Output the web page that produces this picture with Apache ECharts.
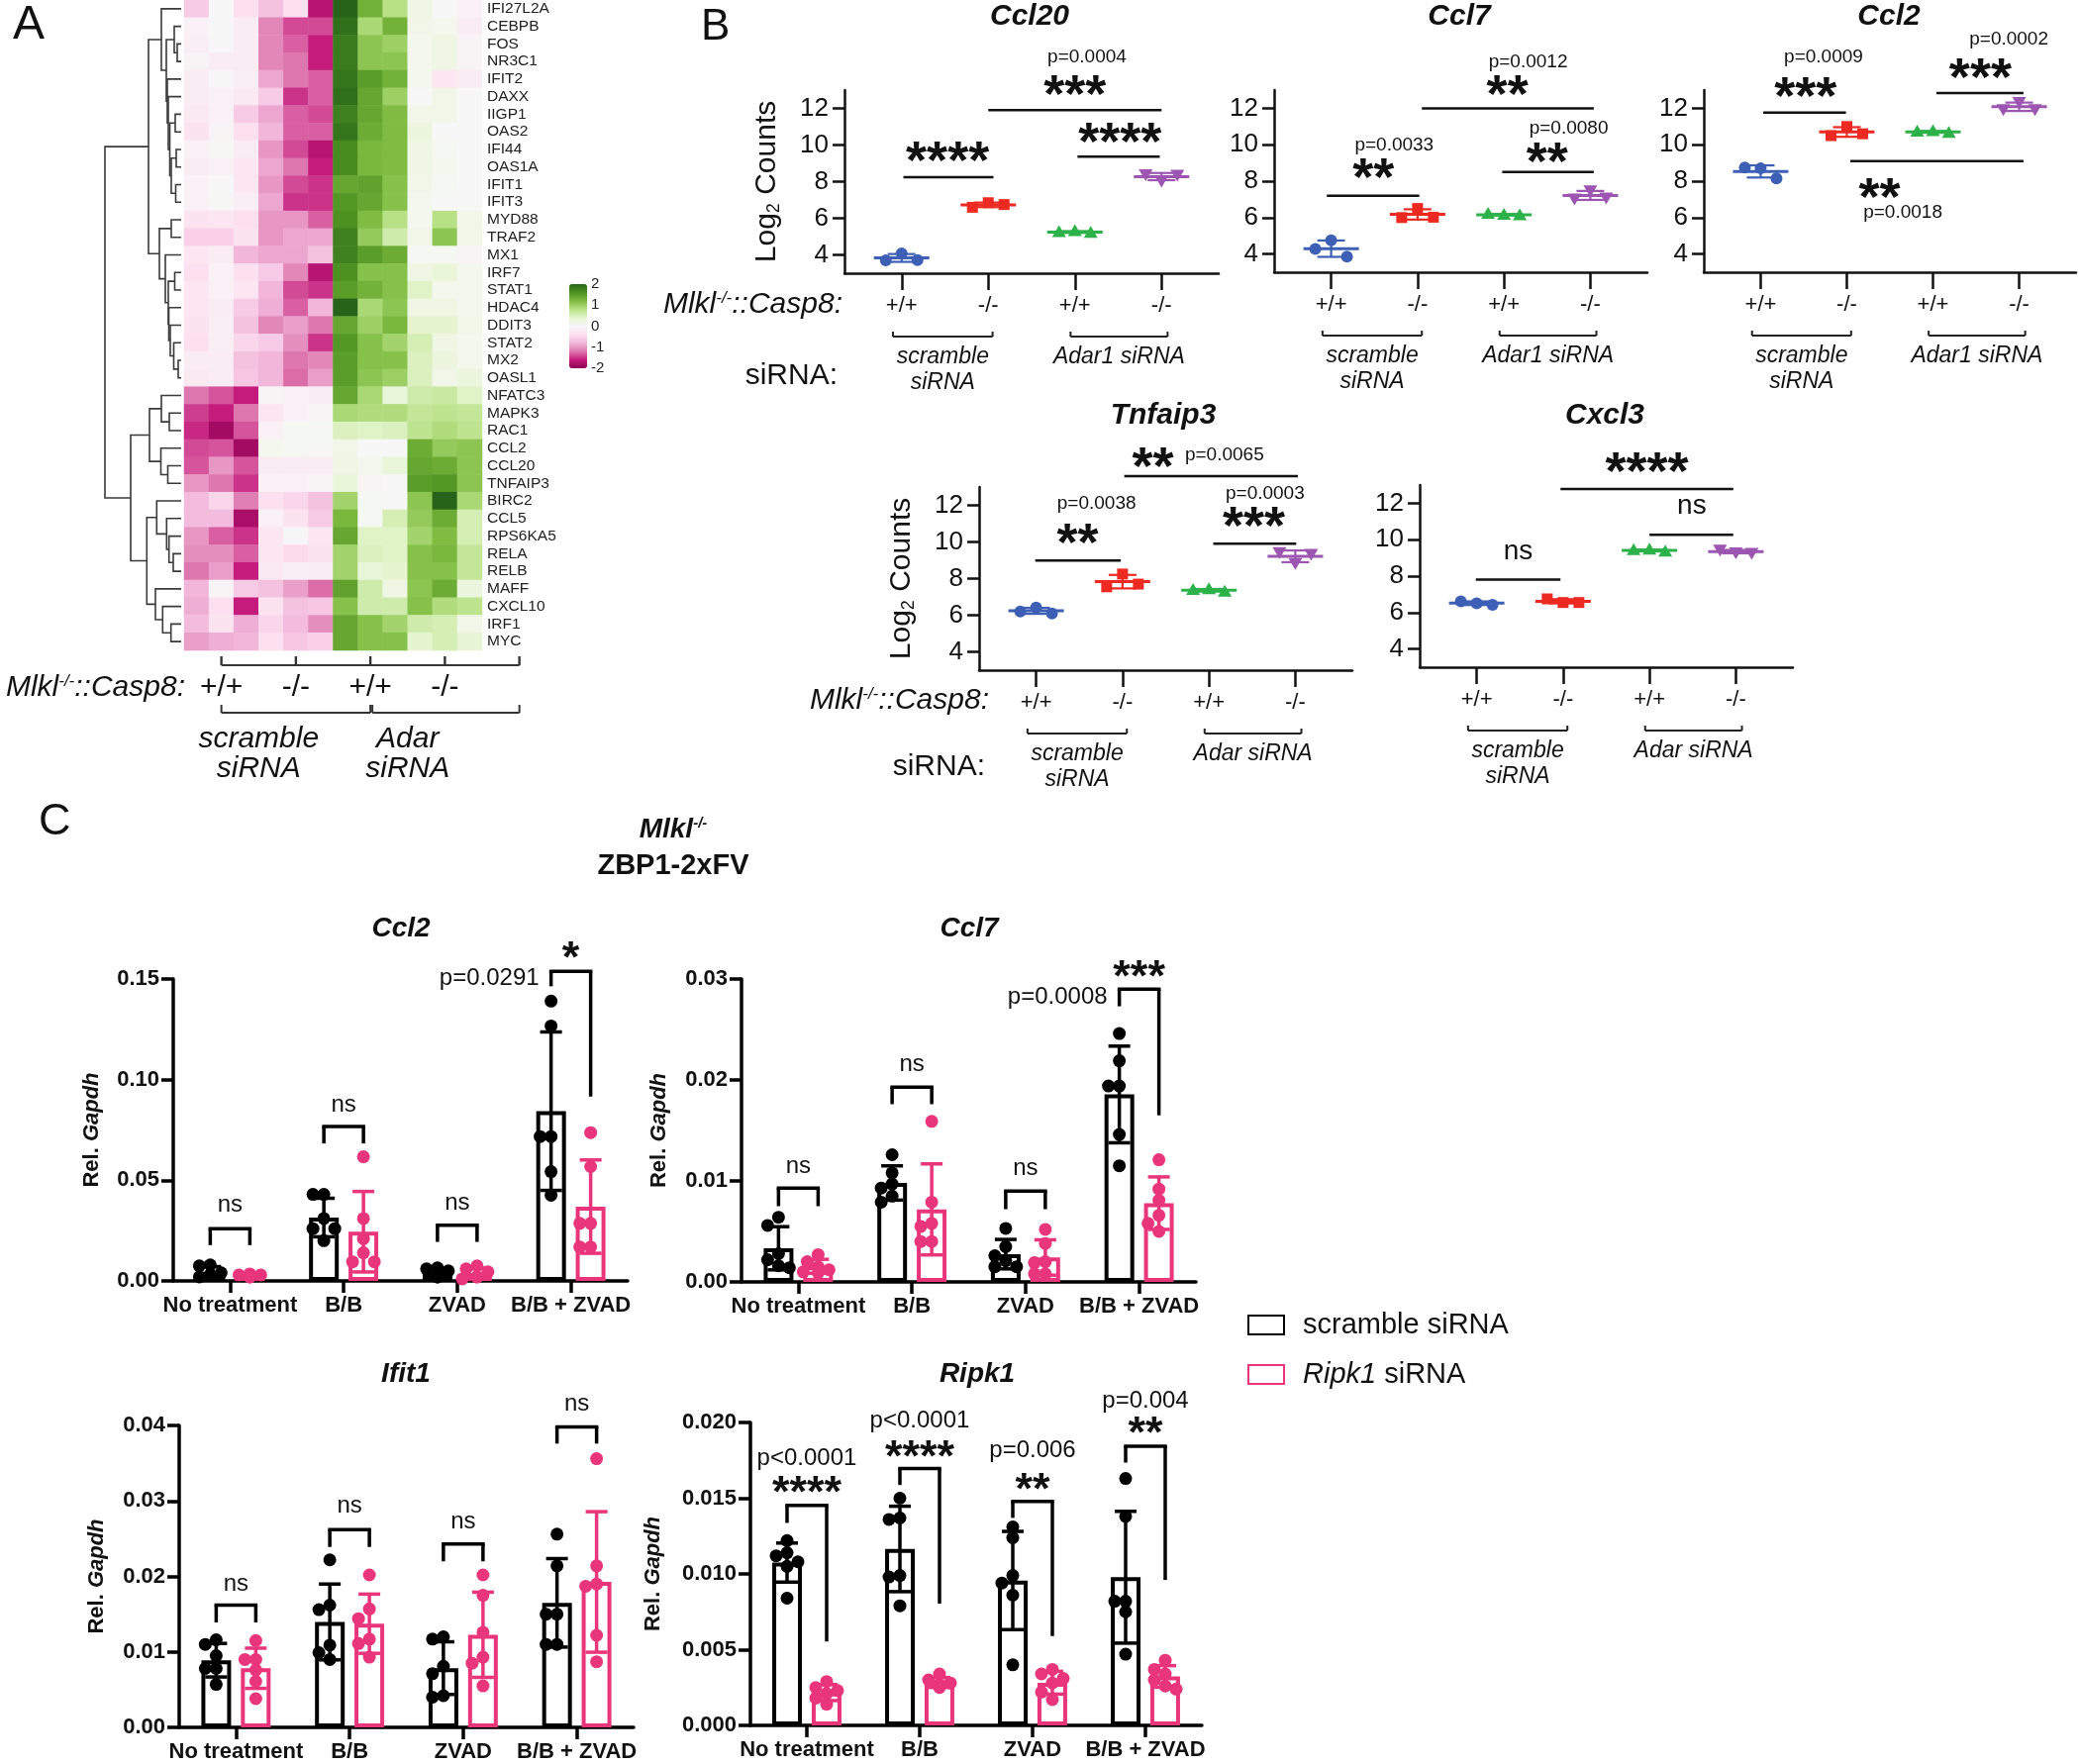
<!DOCTYPE html>
<html><head><meta charset="utf-8">
<script src="https://cdn.jsdelivr.net/npm/echarts@6/dist/echarts.min.js"></script>
<style>html,body{margin:0;padding:0;background:#fff}#c{width:2100px;height:1782px}</style>
</head><body><div id="c"></div>
<script>
const FONT = '"Liberation Sans", Arial, Helvetica, sans-serif';

// ================= PANEL A DATA =================
const genes = ['IFI27L2A','CEBPB','FOS','NR3C1','IFIT2','DAXX','IIGP1','OAS2','IFI44','OAS1A','IFIT1','IFIT3','MYD88','TRAF2','MX1','IRF7','STAT1','HDAC4','DDIT3','STAT2','MX2','OASL1','NFATC3','MAPK3','RAC1','CCL2','CCL20','TNFAIP3','BIRC2','CCL5','RPS6KA5','RELA','RELB','MAFF','CXCL10','IRF1','MYC'];
const samples = ['scr+/+ 1','scr+/+ 2','scr+/+ 3','scr-/- 1','scr-/- 2','scr-/- 3','adar+/+ 1','adar+/+ 2','adar+/+ 3','adar-/- 1','adar-/- 2','adar-/- 3'];
const zScores = [
 [-0.6,0,-0.4,-0.7,-0.4,-1.7,2.0,1.3,0.8,0.2,0.0,-0.1],
 [-0.1,0,-0.2,-1.1,-1.4,-1.4,1.9,0.9,1.3,0.15,0.1,-0.2],
 [-0.15,0.0,-0.2,-1.1,-1.3,-1.6,1.8,1.1,1.0,0.1,0.2,-0.05],
 [-0.05,-0.2,-0.2,-1.1,-1.2,-1.6,1.8,1.1,1.1,0.1,0.2,-0.05],
 [-0.2,0.0,-0.15,-0.9,-1.2,-1.3,1.85,1.5,1.3,0.1,-0.3,-0.2],
 [-0.2,-0.1,-0.25,-0.6,-1.5,-1.3,1.9,1.4,1.0,0.0,0.15,0.0],
 [-0.25,-0.1,-0.6,-0.9,-1.3,-1.4,1.75,1.4,1.2,0.15,0.15,0.0],
 [-0.35,-0.05,-0.4,-0.8,-1.3,-1.3,1.85,1.35,1.2,0.25,0.0,0.0],
 [-0.1,0.02,-0.2,-1.0,-1.4,-1.7,1.65,1.25,1.2,0.2,0.05,0.0],
 [-0.2,-0.1,-0.3,-0.9,-1.2,-1.6,1.65,1.25,1.2,0.2,0.1,0.0],
 [-0.1,0.0,-0.3,-1.0,-1.4,-1.5,1.4,1.45,1.15,0.15,0.05,0.0],
 [-0.1,0.02,-0.15,-0.9,-1.5,-1.5,1.55,1.4,1.15,0.1,0.0,0.0],
 [-0.35,-0.3,-0.4,-1.0,-1.0,-1.3,1.6,1.2,0.8,0.1,0.8,0.15],
 [-0.55,-0.55,-0.35,-1.0,-0.9,-0.9,1.75,1.05,0.6,0.15,1.1,0.15],
 [-0.3,-0.2,-0.8,-0.9,-0.9,-0.7,1.75,1.5,1.35,0.05,0.05,-0.05],
 [-0.4,-0.1,-0.4,-0.6,-1.1,-1.7,1.6,1.15,1.15,0.2,0.3,0.1],
 [-0.3,-0.1,-0.3,-0.8,-1.4,-1.5,1.5,1.3,1.15,0.45,0.1,0.1],
 [-0.3,-0.2,-0.6,-0.85,-1.3,-0.8,2.0,0.9,1.1,0.2,0.2,0.1],
 [-0.35,-0.15,-0.7,-1.1,-0.95,-1.2,1.4,1.0,1.25,0.4,0.4,0.15],
 [-0.4,-0.15,-0.5,-0.6,-1.05,-1.5,1.55,1.15,0.95,0.55,0.2,0.1],
 [-0.2,-0.2,-0.7,-0.8,-1.2,-1.1,1.5,1.15,1.15,0.5,0.25,0.1],
 [-0.25,-0.2,-0.65,-0.8,-1.25,-0.95,1.5,1.1,1.0,0.5,0.15,0.25],
 [-1.2,-1.35,-1.6,-0.05,-0.1,-0.2,1.4,0.9,0.3,0.6,0.65,0.45],
 [-1.45,-1.6,-1.2,-0.3,-0.1,-0.05,0.9,0.85,0.85,0.7,0.75,0.7],
 [-1.55,-1.85,-1.35,-0.1,0.05,0.05,0.5,0.45,0.5,0.75,0.85,0.75],
 [-1.4,-1.35,-1.85,0.1,0.05,0.02,0.15,0.0,0.0,1.35,1.05,1.1],
 [-1.35,-1.0,-1.35,-0.2,-0.2,-0.2,0.2,0.1,0.3,1.4,1.35,1.1],
 [-1.0,-1.2,-1.5,-0.1,-0.1,-0.05,0.3,-0.05,0.0,1.5,1.55,1.1],
 [-0.75,-0.5,-1.15,-0.4,-0.5,-0.7,0.95,0.05,0.0,1.1,2.0,0.9],
 [-0.75,-0.75,-1.8,-0.1,-0.35,-0.6,1.25,0.05,0.55,1.05,1.35,0.55],
 [-1.0,-1.3,-1.5,-0.3,-0.02,-0.3,1.4,0.45,0.45,0.95,1.2,0.55],
 [-1.05,-1.05,-1.3,-0.3,-0.45,-0.35,0.95,0.5,0.45,1.15,1.25,0.7],
 [-1.2,-0.95,-1.6,-0.25,-0.15,-0.2,0.95,0.3,0.4,1.15,1.15,0.7],
 [-0.8,-0.05,-0.6,-0.7,-0.95,-1.25,1.45,0.6,0.2,1.1,1.35,0.25],
 [-0.85,-0.4,-1.6,-0.35,-0.7,-0.65,1.15,0.6,0.6,1.15,0.85,0.75],
 [-0.75,-0.35,-0.85,-0.5,-0.75,-1.05,1.4,1.15,0.95,0.6,0.55,0.15],
 [-0.95,-0.85,-0.8,-0.4,-0.65,-0.55,1.4,1.15,1.15,0.4,0.55,0.35]
];
// hierarchical clustering: [mergeHeight, left, right]
const geneTree = [77,
 [33,
  [20,'IFI27L2A',[15,[7,'CEBPB',[4,'FOS','NR3C1']],[14,'IFIT2',[13,'DAXX',[11.5,[6,'IIGP1','OAS2'],[10,[5,'IFI44','OAS1A'],[5.5,'IFIT1','IFIT3']]]]]]],
  [22,[10,'MYD88','TRAF2'],[16,'MX1',[13,[6.5,'IRF7','STAT1'],[12.5,'HDAC4',[11,'DDIT3',[7.5,'STAT2',[3,'MX2','OASL1']]]]]]]],
 [51,
  [32,[20,'NFATC3',[12,'MAPK3','RAC1']],[20.5,'CCL2',[13.5,'CCL20','TNFAIP3']]],
  [34.7,[24.7,'BIRC2',[14.7,'CCL5',[12.3,'RPS6KA5',[8,'RELA','RELB']]]],[26,'MAFF',[18.7,'CXCL10',[10.3,'IRF1','MYC']]]]]
];
const genotypeLabels = ['+/+','-/-','+/+','-/-'];
const siRNAGroupsA = [['scramble','siRNA'],['Adar','siRNA']];

// ================= PANEL B DATA (Log2 counts, 3 replicates) =================
const ccl20Counts   = [[3.7,4.08,3.72],[6.6,6.85,6.75],[5.25,5.3,5.2],[8.4,8.05,8.38]];
const ccl7Counts    = [[4.28,4.75,3.85],[6.0,6.5,6.02],[6.2,6.15,6.12],[7.05,7.5,7.1]];
const ccl2Counts    = [[8.75,8.7,8.15],[10.5,11.0,10.6],[10.72,10.75,10.65],[11.95,12.35,11.95]];
const tnfaip3Counts = [[6.2,6.42,6.1],[7.55,8.25,7.7],[7.38,7.42,7.28],[9.45,8.85,9.35]];
const cxcl3Counts   = [[6.62,6.5,6.42],[6.75,6.55,6.55],[9.42,9.45,9.35],[9.45,9.3,9.28]];
const ccl20Sig = [
 {x1:0.02,x2:1.06,y:8.24,t:'****',tx:0.53,ty:9.62},
 {x1:2.03,x2:2.98,y:9.37,t:'****',tx:2.52,ty:10.69},
 {x1:1.0,x2:3.0,y:11.9,t:'***',tx:2.0,ty:13.27,p:'p=0.0004',px:2.14,py:14.78}];
const ccl7Sig = [
 {x1:-0.05,x2:1.02,y:7.2,t:'**',tx:0.49,ty:8.7,p:'p=0.0033',px:0.73,py:9.99},
 {x1:1.98,x2:3.04,y:8.5,t:'**',tx:2.5,ty:9.56,p:'p=0.0080',px:2.75,py:10.9},
 {x1:1.05,x2:3.04,y:12.0,t:'**',tx:2.04,ty:13.27,p:'p=0.0012',px:2.28,py:14.56}];
const ccl2Sig = [
 {x1:0.03,x2:0.99,y:11.76,t:'***',tx:0.52,ty:13.17,p:'p=0.0009',px:0.73,py:14.78},
 {x1:2.04,x2:3.05,y:12.84,t:'***',tx:2.55,ty:14.19,p:'p=0.0002',px:2.88,py:15.8},
 {x1:1.04,x2:3.05,y:9.1,t:'**',tx:1.38,ty:7.58,p:'p=0.0018',px:1.65,py:6.28}];
const tnfaip3Sig = [
 {x1:-0.01,x2:0.98,y:8.98,t:'**',tx:0.48,ty:10.44,p:'p=0.0038',px:0.7,py:12.1},
 {x1:2.05,x2:3.01,y:9.91,t:'***',tx:2.52,ty:11.35,p:'p=0.0003',px:2.65,py:12.64},
 {x1:1.02,x2:3.03,y:13.59,t:'**',tx:1.35,ty:14.63,p:'p=0.0065',px:2.18,py:14.74}];
const cxcl3Sig = [
 {x1:-0.01,x2:0.97,y:7.81,t:'ns',tx:0.48,ty:9.32},
 {x1:2.0,x2:2.97,y:10.27,t:'ns',tx:2.49,ty:11.83},
 {x1:0.97,x2:2.97,y:12.78,t:'****',tx:1.97,ty:14.24}];
const siRNAGroupsB1 = [{x1:-0.1,x2:1.05,lines:['scramble','siRNA']},{x1:1.95,x2:3.07,lines:['Adar1 siRNA']}];
const siRNAGroupsB2 = [{x1:-0.1,x2:1.05,lines:['scramble','siRNA']},{x1:1.95,x2:3.07,lines:['Adar siRNA']}];
const countTicks = [4,6,8,10,12];

// ================= PANEL C DATA (Rel. Gapdh, 6 replicates) =================
const treatments = ['No treatment','B/B','ZVAD','B/B + ZVAD'];
const ccl2Scramble = [[0.0075,0.008,0.004,0.003,0.002,0.003],[0.043,0.043,0.031,0.026,0.026,0.02],[0.0065,0.006,0.005,0.003,0.002,0.002],[0.139,0.1267,0.0717,0.0717,0.0543,0.0426]];
const ccl2Ripk1    = [[0.0035,0.003,0.003,0.0025,0.002,0.002],[0.0617,0.031,0.021,0.014,0.0095,0.0095],[0.0075,0.006,0.0045,0.002,0.002,0.001],[0.0737,0.0568,0.0286,0.0286,0.0169,0.0169]];
const ccl7Scramble = [[0.0064,0.0056,0.0028,0.0022,0.0016,0.0014],[0.0126,0.0108,0.0097,0.0093,0.0085,0.0079],[0.0053,0.0035,0.0026,0.0021,0.0015,0.0015],[0.0246,0.0219,0.0194,0.0194,0.0146,0.0115]];
const ccl7Ripk1    = [[0.0027,0.002,0.0015,0.0012,0.001,0.0009],[0.0159,0.0079,0.0058,0.0055,0.004,0.004],[0.0052,0.0038,0.002,0.0019,0.0008,0.0008],[0.0121,0.0092,0.0081,0.0066,0.0058,0.005]];
const ifit1Scramble = [[0.0116,0.011,0.0095,0.0078,0.0078,0.0057],[0.0222,0.0162,0.0156,0.0109,0.0099,0.009],[0.012,0.0117,0.0081,0.0071,0.0042,0.004],[0.0256,0.0214,0.015,0.015,0.011,0.011]];
const ifit1Ripk1    = [[0.0115,0.009,0.009,0.0076,0.0061,0.0038],[0.0202,0.0157,0.0144,0.0117,0.0111,0.0093],[0.0202,0.0175,0.0126,0.0093,0.0085,0.0055],[0.0356,0.0214,0.0187,0.019,0.0122,0.0087]];
const ripk1Scramble = [[0.0122,0.0114,0.0112,0.0108,0.0105,0.0084],[0.015,0.0137,0.0136,0.0099,0.0098,0.0079],[0.0131,0.0124,0.0099,0.0094,0.0086,0.004],[0.0163,0.0138,0.0082,0.0082,0.0075,0.0047]];
const ripk1Ripk1    = [[0.0029,0.0025,0.0023,0.0021,0.0018,0.0014],[0.0034,0.003,0.0028,0.0027,0.0026,0.0025],[0.0037,0.0034,0.0031,0.0028,0.0022,0.0017],[0.0043,0.0037,0.0034,0.003,0.0026,0.0024]];
const ccl2CSig = [
 {cat:0,y:0.026,yl:0.0178,yr:0.0178,t:'ns',ty:0.0377},
 {cat:1,y:0.0767,yl:0.0683,yr:0.0683,t:'ns',ty:0.0875},
 {cat:2,y:0.0277,yl:0.0194,yr:0.0194,t:'ns',ty:0.0389},
 {cat:3,y:0.1538,yl:0.1464,yr:0.0916,t:'*',ty:0.1646,p:'p=0.0291',py:0.1505,side:'left'}];
const ccl7CSig = [
 {cat:0,y:0.0093,yl:0.0075,yr:0.0075,t:'ns',ty:0.0114},
 {cat:1,y:0.0193,yl:0.0176,yr:0.0176,t:'ns',ty:0.0215},
 {cat:2,y:0.009,yl:0.0072,yr:0.0072,t:'ns',ty:0.0112},
 {cat:3,y:0.029,yl:0.0273,yr:0.0165,t:'***',ty:0.031,p:'p=0.0008',py:0.0282,side:'left'}];
const ifit1CSig = [
 {cat:0,y:0.0162,yl:0.0139,yr:0.0139,t:'ns',ty:0.019},
 {cat:1,y:0.0262,yl:0.0239,yr:0.0239,t:'ns',ty:0.0293},
 {cat:2,y:0.0243,yl:0.022,yr:0.022,t:'ns',ty:0.0272},
 {cat:3,y:0.0398,yl:0.0376,yr:0.0376,t:'ns',ty:0.0428}];
const ripk1CSig = [
 {cat:0,y:0.01452,yl:0.01337,yr:0.00554,t:'****',ty:0.0159,p:'p<0.0001',py:0.0176},
 {cat:1,y:0.01696,yl:0.01587,yr:0.00804,t:'****',ty:0.01826,p:'p<0.0001',py:0.0201},
 {cat:2,y:0.01478,yl:0.0137,yr:0.0059,t:'**',ty:0.0161,p:'p=0.006',py:0.01815},
 {cat:3,y:0.01843,yl:0.01735,yr:0.0096,t:'**',ty:0.0198,p:'p=0.004',py:0.0214}];

// ================= helpers =================
const mean = a => a.reduce((s, v) => s + v, 0) / a.length;
const sd = a => { const m = mean(a); return Math.sqrt(a.reduce((s, v) => s + (v - m) * (v - m), 0) / (a.length - 1)); };
const txt = (x, y, text, font, align, vAlign, fill) => ({
  type: 'text', x: x, y: y,
  style: { text: text, font: font, fill: fill || '#111', align: align || 'center', verticalAlign: vAlign || 'middle', textAlign: align || 'center', textVerticalAlign: vAlign || 'middle' }
});
const seg = (x1, y1, x2, y2, w, c) => ({ type: 'line', shape: { x1, y1, x2, y2 }, style: { stroke: c || '#111', lineWidth: w, lineCap: 'butt' } });
const STAR_SHIFT = 0.22;

// dendrogram layout
const dendroSegs = [];
function layoutTree(node) {
  if (typeof node === 'string') return { y: genes.indexOf(node) + 0.5, h: 0 };
  const a = layoutTree(node[1]), b = layoutTree(node[2]);
  dendroSegs.push([node[0], a.y, a.h, b.y, b.h]);
  return { y: (a.y + b.y) / 2, h: node[0] };
}
layoutTree(geneTree);

const heatData = [];
zScores.forEach((row, r) => row.forEach((v, c) => heatData.push([c, r, v])));

// ================= layout =================
const grids = [
  { left: 106, top: 0, width: 77, height: 657 },      // 0 dendrogram
  { left: 186, top: 0, width: 301, height: 657 },     // 1 heatmap
  { left: 575, top: 287, width: 18, height: 85 },     // 2 colorbar
  { left: 853, top: 91, width: 378, height: 185 },    // 3 Ccl20
  { left: 1287, top: 91, width: 377, height: 184 },   // 4 Ccl7
  { left: 1721, top: 91, width: 376, height: 184 },   // 5 Ccl2
  { left: 989, top: 492, width: 377, height: 185 },   // 6 Tnfaip3
  { left: 1434, top: 490, width: 377, height: 184 },  // 7 Cxcl3
  { left: 175, top: 989, width: 459, height: 305 },   // 8 C Ccl2
  { left: 749, top: 989, width: 459, height: 306 },   // 9 C Ccl7
  { left: 181, top: 1440, width: 459, height: 305 },  // 10 C Ifit1
  { left: 758, top: 1437, width: 456, height: 306 }   // 11 C Ripk1
];
const xAxes = [], yAxes = [], series = [];

// --- dendrogram
xAxes.push({ gridIndex: 0, type: 'value', min: 0, max: 77, inverse: true, show: false });
yAxes.push({ gridIndex: 0, type: 'value', min: 0, max: 37, inverse: true, show: false });
series.push({
  type: 'custom', xAxisIndex: 0, yAxisIndex: 0, data: dendroSegs, silent: true,
  renderItem: (params, api) => {
    const h = api.value(0), y1 = api.value(1), h1 = api.value(2), y2 = api.value(3), h2 = api.value(4);
    return { type: 'polyline', shape: { points: [api.coord([h1, y1]), api.coord([h, y1]), api.coord([h, y2]), api.coord([h2, y2])] },
      style: { stroke: '#3a3a3a', lineWidth: 1.6, fill: null } };
  }
});
// --- heatmap
xAxes.push({ gridIndex: 1, type: 'category', data: samples, show: false });
yAxes.push({ gridIndex: 1, type: 'category', data: genes, inverse: true, position: 'right',
  axisLine: { show: false }, axisTick: { show: false },
  axisLabel: { interval: 0, fontSize: 15.5, margin: 5, color: '#222', fontFamily: FONT } });
series.push({ type: 'heatmap', xAxisIndex: 1, yAxisIndex: 1, data: heatData, silent: true, itemStyle: { borderWidth: 0 } });
// panel A bottom annotations
series.push({
  type: 'custom', xAxisIndex: 1, yAxisIndex: 1, data: [[0, 0]], silent: true,
  renderItem: (params, api) => {
    const cs = params.coordSys;
    const x0 = api.coord([0, 0])[0], x1 = api.coord([1, 0])[0];
    const colX = c => x0 + c * (x1 - x0);
    const B = cs.y + cs.height;
    const ch = [];
    const yl = B + 15;
    ch.push(seg(colX(1), yl, colX(13), yl, 2, '#333'));
    [1, 4, 7, 10, 13].forEach(c => ch.push(seg(colX(c), yl, colX(c), yl - 9, 2.4, '#333')));
    genotypeLabels.forEach((g, k) => ch.push(txt(colX(1 + 3 * k), B + 38, g, '30px ' + FONT)));
    const y2 = B + 63;
    [[1, 7], [7.08, 13]].forEach(([a, b]) => {
      ch.push(seg(colX(a), y2, colX(b), y2, 2, '#333'));
      ch.push(seg(colX(a), y2, colX(a), y2 - 8, 2, '#333'));
      ch.push(seg(colX(b), y2, colX(b), y2 - 8, 2, '#333'));
    });
    siRNAGroupsA.forEach((lines, k) => lines.forEach((l, j) =>
      ch.push(txt(colX(2.5 + 6 * k), B + 90 + 30 * j, l, 'italic 30px ' + FONT))));
    return { type: 'group', children: ch };
  }
});
// --- colorbar axis
xAxes.push({ gridIndex: 2, type: 'value', show: false, min: 0, max: 1 });
yAxes.push({ gridIndex: 2, type: 'value', min: -2, max: 2, interval: 1, position: 'right',
  axisLine: { show: false }, splitLine: { show: false },
  axisTick: { show: true, inside: true, length: 5, lineStyle: { color: '#fff', width: 1.5 } },
  axisLabel: { fontSize: 15, margin: 4, color: '#222', fontFamily: FONT } });
series.push({ type: 'scatter', xAxisIndex: 2, yAxisIndex: 2, data: [], silent: true });

// ================= PANEL B =================
const groupColors = ['#3d5fb5', '#ec2a22', '#2db24a', '#9c56b2'];
function marker(kind, x, y, col) {
  if (kind === 0) return { type: 'circle', shape: { cx: x, cy: y, r: 6 }, style: { fill: col } };
  if (kind === 1) return { type: 'rect', shape: { x: x - 5.5, y: y - 5.5, width: 11, height: 11 }, style: { fill: col } };
  if (kind === 2) return { type: 'polygon', shape: { points: [[x, y - 7], [x - 7, y + 5], [x + 7, y + 5]] }, style: { fill: col } };
  return { type: 'polygon', shape: { points: [[x, y + 7], [x - 7, y - 5], [x + 7, y - 5]] }, style: { fill: col } };
}
const bCharts = [
  { title: 'Ccl20', vals: ccl20Counts, sig: ccl20Sig, groups: siRNAGroupsB1, yName: true },
  { title: 'Ccl7', vals: ccl7Counts, sig: ccl7Sig, groups: siRNAGroupsB1, yName: false },
  { title: 'Ccl2', vals: ccl2Counts, sig: ccl2Sig, groups: siRNAGroupsB1, yName: false },
  { title: 'Tnfaip3', vals: tnfaip3Counts, sig: tnfaip3Sig, groups: siRNAGroupsB2, yName: true },
  { title: 'Cxcl3', vals: cxcl3Counts, sig: cxcl3Sig, groups: siRNAGroupsB2, yName: false }
];
bCharts.forEach((bc, i) => {
  const gi = 3 + i;
  const ax = xAxes.length;
  xAxes.push({ gridIndex: gi, type: 'value', min: -0.66, max: 3.66, splitLine: { show: false },
    axisLine: { show: true, onZero: false, lineStyle: { color: '#111', width: 2.5 } },
    axisTick: { show: true, customValues: [0, 1, 2, 3], length: 17, lineStyle: { color: '#111', width: 2.5 } },
    axisLabel: { customValues: [0, 1, 2, 3], formatter: v => genotypeLabels[Math.round(v)], fontSize: 22, margin: 22, color: '#111', fontFamily: FONT } });
  yAxes.push({ gridIndex: gi, type: 'value', min: 3, max: 13, splitLine: { show: false },
    axisLine: { show: true, onZero: false, lineStyle: { color: '#111', width: 2.5 } },
    axisTick: { show: true, customValues: countTicks, length: 12, lineStyle: { color: '#111', width: 2.5 } },
    axisLabel: { customValues: countTicks, fontSize: 26, margin: 16, color: '#111', fontFamily: FONT },
    name: bc.yName ? '{a|Log}{b|2}{a| Counts}' : '', nameLocation: 'middle', nameRotate: 90, nameGap: 62,
    nameTextStyle: { rich: { a: { fontSize: 30, fontFamily: FONT, color: '#111' }, b: { fontSize: 18, fontFamily: FONT, color: '#111', verticalAlign: 'bottom', padding: [14, 0, 0, 0] } } } });
  // dots + mean + sd
  series.push({
    type: 'custom', xAxisIndex: ax, yAxisIndex: ax, silent: true, z: 4,
    data: bc.vals.map((v, k) => [k, mean(v)]),
    renderItem: (params, api) => {
      const k = params.dataIndex, v = bc.vals[k], m = mean(v), s = sd(v), col = groupColors[k];
      const c = api.coord([k, m]);
      const yt = api.coord([k, m + s])[1], yb = api.coord([k, m - s])[1];
      const offs = [-16, 0, 16];
      const ch = v.map((val, j) => marker(k, c[0] + offs[j], api.coord([k, val])[1], col));
      ch.push(seg(c[0] - 28, c[1], c[0] + 28, c[1], 3, col));
      ch.push(seg(c[0], yt, c[0], yb, 2.2, col));
      ch.push(seg(c[0] - 14, yt, c[0] + 14, yt, 2.2, col));
      ch.push(seg(c[0] - 14, yb, c[0] + 14, yb, 2.2, col));
      return { type: 'group', children: ch };
    }
  });
  // significance lines
  series.push({
    type: 'custom', xAxisIndex: ax, yAxisIndex: ax, silent: true, z: 5, clip: false,
    data: bc.sig.map(s => [s.x1, s.y]),
    renderItem: (params, api) => {
      const s = bc.sig[params.dataIndex];
      const a = api.coord([s.x1, s.y]), b = api.coord([s.x2, s.y]);
      const ch = [seg(a[0], a[1], b[0], b[1], 2.5, '#111')];
      const tp = api.coord([s.tx, s.ty]);
      if (s.t === 'ns') ch.push(txt(tp[0], tp[1], 'ns', '28px ' + FONT));
      else ch.push(txt(tp[0], tp[1] + STAR_SHIFT * 54, s.t, 'bold 54px ' + FONT));
      if (s.p) { const pp = api.coord([s.px, s.py]); ch.push(txt(pp[0], pp[1], s.p, '19px ' + FONT)); }
      return { type: 'group', children: ch };
    }
  });
  // siRNA group brackets
  series.push({
    type: 'custom', xAxisIndex: ax, yAxisIndex: ax, silent: true, clip: false,
    data: bc.groups.map(g => [g.x1, 3]),
    renderItem: (params, api) => {
      const g = bc.groups[params.dataIndex], cs = params.coordSys;
      const B = cs.y + cs.height;
      const xa = api.coord([g.x1, 3])[0], xb = api.coord([g.x2, 3])[0];
      const y = B + 64;
      const ch = [seg(xa, y, xb, y, 2, '#222'), seg(xa, y, xa, y - 5, 2, '#222'), seg(xb, y, xb, y - 5, 2, '#222')];
      g.lines.forEach((l, j) => ch.push(txt((xa + xb) / 2, B + 85 + 26 * j, l, 'italic 23px ' + FONT)));
      return { type: 'group', children: ch };
    }
  });
});

// ================= PANEL C =================
const PINK = '#e9357c';
const cCharts = [
  { title: 'Ccl2', scr: ccl2Scramble, rip: ccl2Ripk1, sig: ccl2CSig, max: 0.15, interval: 0.05, dec: 2, gap: 71 },
  { title: 'Ccl7', scr: ccl7Scramble, rip: ccl7Ripk1, sig: ccl7CSig, max: 0.03, interval: 0.01, dec: 2, gap: 72 },
  { title: 'Ifit1', scr: ifit1Scramble, rip: ifit1Ripk1, sig: ifit1CSig, max: 0.04, interval: 0.01, dec: 2, gap: 72 },
  { title: 'Ripk1', scr: ripk1Scramble, rip: ripk1Ripk1, sig: ripk1CSig, max: 0.02, interval: 0.005, dec: 3, gap: 87 }
];
function dotsSeries(ax, vals, col, dx) {
  return {
    type: 'custom', xAxisIndex: ax, yAxisIndex: ax, silent: true, z: 4,
    data: vals.map((v, k) => [k, mean(v)]),
    renderItem: (params, api) => {
      const k = params.dataIndex, v = vals[k], m = mean(v), s = sd(v);
      const c = api.coord([k, m]); const cx = c[0] + dx;
      const yt = api.coord([k, m + s])[1], yb = api.coord([k, Math.max(0, m - s)])[1];
      const ch = [];
      ch.push(seg(cx, yt, cx, yb, 3.5, col));
      ch.push(seg(cx - 11, yt, cx + 11, yt, 3.5, col));
      ch.push(seg(cx - 11, yb, cx + 11, yb, 3.5, col));
      const pts = v.map(val => api.coord([k, val])[1]).sort((a, b) => a - b);
      const placed = [];
      pts.forEach(py => {
        let chosen = 0;
        for (const o of [0, -11, 11, -6, 6, -15, 15]) {
          if (placed.every(p => (p[0] - o) * (p[0] - o) + (p[1] - py) * (p[1] - py) >= 110)) { chosen = o; break; }
        }
        placed.push([chosen, py]);
        ch.push({ type: 'circle', shape: { cx: cx + chosen, cy: py, r: 6.5 }, style: { fill: col } });
      });
      return { type: 'group', children: ch };
    }
  };
}
cCharts.forEach((cc, i) => {
  const gi = 8 + i;
  const ax = xAxes.length;
  xAxes.push({ gridIndex: gi, type: 'category', data: treatments,
    axisLine: { show: true, onZero: false, lineStyle: { color: '#000', width: 3.5 } },
    axisTick: { show: true, alignWithLabel: true, length: 12, lineStyle: { color: '#000', width: 3.5 } },
    axisLabel: { interval: 0, fontSize: 22, fontWeight: 'bold', margin: 14, color: '#111', fontFamily: FONT } });
  yAxes.push({ gridIndex: gi, type: 'value', min: 0, max: cc.max, interval: cc.interval, splitLine: { show: false },
    axisLine: { show: true, onZero: false, lineStyle: { color: '#000', width: 3.5 } },
    axisTick: { show: true, length: 12, lineStyle: { color: '#000', width: 3.5 } },
    axisLabel: { fontSize: 22, fontWeight: 'bold', margin: 14, color: '#111', fontFamily: FONT, formatter: v => v.toFixed(cc.dec) },
    name: '{b|Rel. }{bi|Gapdh}', nameLocation: 'middle', nameRotate: 90, nameGap: cc.gap,
    nameTextStyle: { rich: { b: { fontSize: 22, fontWeight: 'bold', fontFamily: FONT, color: '#111' }, bi: { fontSize: 22, fontWeight: 'bold', fontStyle: 'italic', fontFamily: FONT, color: '#111' } } } });
  series.push({ type: 'bar', name: 'scramble siRNA', xAxisIndex: ax, yAxisIndex: ax, data: cc.scr.map(mean), barWidth: 30, barGap: '33%', silent: true, z: 2,
    itemStyle: { color: '#fff', borderColor: '#000', borderWidth: 4 } });
  series.push({ type: 'bar', name: 'Ripk1 siRNA', xAxisIndex: ax, yAxisIndex: ax, data: cc.rip.map(mean), barWidth: 30, barGap: '33%', silent: true, z: 2,
    itemStyle: { color: '#fff', borderColor: PINK, borderWidth: 4 } });
  series.push(dotsSeries(ax, cc.scr, '#000', -20));
  series.push(dotsSeries(ax, cc.rip, PINK, 20));
  series.push({
    type: 'custom', xAxisIndex: ax, yAxisIndex: ax, silent: true, z: 5, clip: false,
    data: cc.sig.map(s => [s.cat, s.y]),
    renderItem: (params, api) => {
      const s = cc.sig[params.dataIndex];
      const c = api.coord([s.cat, s.y]);
      const L = c[0] - 20, R = c[0] + 20;
      const yl = api.coord([s.cat, s.yl])[1], yr = api.coord([s.cat, s.yr])[1];
      const ch = [seg(L - 1.75, c[1], R + 1.75, c[1], 3.5, '#000'), seg(L, c[1], L, yl, 3.5, '#000'), seg(R, c[1], R, yr, 3.5, '#000')];
      const ty = api.coord([s.cat, s.ty])[1];
      if (s.t === 'ns') ch.push(txt(c[0], ty, 'ns', '24px ' + FONT));
      else ch.push(txt(c[0], ty + STAR_SHIFT * 45, s.t, 'bold 45px ' + FONT));
      if (s.p) {
        const py = api.coord([s.cat, s.py])[1];
        if (s.side === 'left') ch.push(txt(L - 12, py, s.p, '24px ' + FONT, 'right'));
        else ch.push(txt(c[0], py, s.p, '24px ' + FONT));
      }
      return { type: 'group', children: ch };
    }
  });
});

// ================= text / titles =================
const G = [];
const gtext = (x, y, text, font, align, extra) => G.push({ type: 'text', silent: true,
  style: Object.assign({ text, x, y, font, fill: '#111', textAlign: align || 'left', textVerticalAlign: 'middle' }, extra || {}) });
gtext(13, 26, 'A', '48px ' + FONT);
gtext(708, 28, 'B', '44px ' + FONT);
gtext(39, 831, 'C', '45px ' + FONT);
const mlklRich = size => ({ i: { font: 'italic ' + size + 'px ' + FONT, fill: '#111' }, s: { font: 'italic ' + Math.round(size * 0.55) + 'px ' + FONT, fill: '#111', verticalAlign: 'top' } });
gtext(187, 695, '{i|Mlkl}{s|-/-}{i|::Casp8:}', 'italic 30px ' + FONT, 'right', { rich: mlklRich(30) });
gtext(851, 308, '{i|Mlkl}{s|-/-}{i|::Casp8:}', 'italic 30px ' + FONT, 'right', { rich: mlklRich(30) });
gtext(846, 380, 'siRNA:', '30px ' + FONT, 'right');
gtext(999, 708, '{i|Mlkl}{s|-/-}{i|::Casp8:}', 'italic 30px ' + FONT, 'right', { rich: mlklRich(30) });
gtext(995, 775, 'siRNA:', '30px ' + FONT, 'right');
// B titles
[[1040, 17, 'Ccl20'], [1474, 17, 'Ccl7'], [1908, 17, 'Ccl2'], [1175, 420, 'Tnfaip3'], [1621, 420, 'Cxcl3']]
  .forEach(t => gtext(t[0], t[1], t[2], 'italic bold 30px ' + FONT, 'center'));
// C header & titles
gtext(680, 838, '{i|Mlkl}{s|-/-}', 'italic bold 28px ' + FONT, 'center', { rich: { i: { font: 'italic bold 28px ' + FONT, fill: '#111' }, s: { font: 'italic bold 15px ' + FONT, fill: '#111', verticalAlign: 'top' } } });
gtext(680, 875, 'ZBP1-2xFV', 'bold 29px ' + FONT, 'center');
[[405, 938, 'Ccl2'], [979, 938, 'Ccl7'], [410, 1388, 'Ifit1'], [987, 1388, 'Ripk1']]
  .forEach(t => gtext(t[0], t[1], t[2], 'italic bold 28px ' + FONT, 'center'));

const chart = echarts.init(document.getElementById('c'), null, { renderer: 'canvas', width: 2100, height: 1782 });
chart.setOption({
  animation: false,
  backgroundColor: '#fff',
  textStyle: { fontFamily: FONT },
  grid: grids,
  xAxis: xAxes,
  yAxis: yAxes,
  visualMap: [{ type: 'continuous', min: -2, max: 2, seriesIndex: 1, calculable: false, orient: 'vertical',
    left: 575, top: 287, itemWidth: 18, itemHeight: 85, padding: 0, text: null, showLabel: false,
    inRange: { color: ['#8e0152', '#c51b7d', '#de77ae', '#f1b6da', '#fde0ef', '#f7f7f7', '#e6f5d0', '#b8e186', '#7fbc41', '#4d9221', '#276419'] } }],
  legend: { data: ['scramble siRNA', 'Ripk1 siRNA'], orient: 'vertical', left: 1260, top: 1324, itemWidth: 36, itemHeight: 19, itemGap: 21,
    padding: 0, icon: 'rect', selectedMode: false,
    formatter: n => n === 'Ripk1 siRNA' ? '{i|Ripk1}{n| siRNA}' : '{n|' + n + '}',
    textStyle: { fontSize: 29, color: '#111', fontFamily: FONT, padding: [0, 0, 0, 14],
      rich: { i: { fontSize: 29, fontStyle: 'italic', fontFamily: FONT, color: '#111' }, n: { fontSize: 29, fontFamily: FONT, color: '#111' } } } },
  graphic: G,
  series: series
});
</script>
</body></html>
